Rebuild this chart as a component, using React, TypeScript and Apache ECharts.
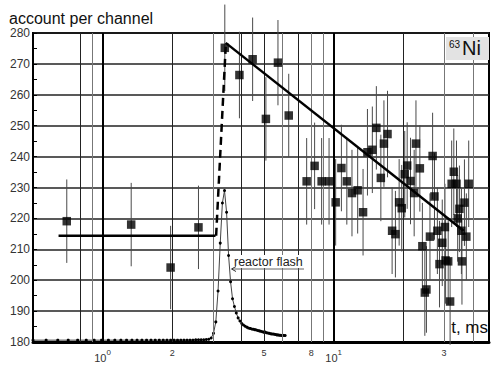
import React, { useEffect, useRef } from "react";
import * as echarts from "echarts";

// measured points (t in ms, counts per channel, error)
const pointT = [0.70, 1.33, 1.97, 2.60, 3.38, 3.91, 4.46, 5.09, 5.74, 6.39, 7.64, 8.27, 8.87, 9.55, 10.2, 10.8, 11.4, 12.0, 12.7, 13.4, 14.0, 14.7, 15.3, 16.0, 16.5, 17.1, 17.9, 18.5, 19.2, 19.7, 20.3, 20.8, 21.5, 22.3, 22.7, 23.6, 24.2, 24.8, 25.2, 26.1, 26.8, 27.3, 28.1, 28.7, 29.5, 30.3, 30.5, 31.3, 31.9, 32.4, 33.1, 34.0, 34.4, 35.0, 35.7, 35.9, 36.8, 37.5, 38.4];
const pointV = [219.1, 218.0, 204.1, 217.1, 275.2, 266.4, 271.5, 252.2, 270.4, 253.3, 232.0, 237.0, 232.0, 232.0, 225.2, 236.3, 232.0, 228.2, 229.1, 222.0, 241.4, 242.2, 249.3, 233.1, 244.2, 247.3, 216.0, 214.9, 225.2, 223.3, 234.3, 237.1, 232.1, 228.2, 244.2, 236.2, 211.0, 196.0, 197.0, 214.1, 240.2, 227.1, 216.0, 205.2, 212.1, 217.2, 206.4, 206.1, 193.1, 231.2, 235.1, 231.2, 220.0, 223.1, 216.0, 206.1, 225.1, 214.1, 231.2];
const pointErr = [13.5, 13.5, 13.5, 13.5, 14, 14, 13.5, 13.5, 13.8, 13.5, 14, 14, 14, 14, 14, 14, 14, 14, 14, 14, 14, 14, 13.5, 14, 14, 14, 14, 14, 14, 14, 14, 14, 14, 14, 14, 14, 14, 14, 14, 14, 14, 14, 14, 14, 14, 14, 14, 14, 14, 14, 14, 14, 14, 14, 14, 14, 14, 14, 14];

// reactor flash curve
const flashT = [0.50, 0.57, 0.64, 0.71, 0.78, 0.85, 0.92, 0.99, 1.06, 1.13, 1.20, 1.27, 1.34, 1.41, 1.48, 1.55, 1.62, 1.69, 1.76, 1.83, 1.90, 1.97, 2.04, 2.11, 2.18, 2.25, 2.32, 2.39, 2.46, 2.53, 2.60, 2.67, 2.74, 2.81, 2.88, 2.95, 3.02, 3.09, 3.16, 3.23, 3.30, 3.37, 3.44, 3.51, 3.58, 3.65, 3.72, 3.79, 3.86, 3.93, 4.00, 4.07, 4.14, 4.21, 4.28, 4.35, 4.42, 4.49, 4.56, 4.63, 4.70, 4.77, 4.84, 4.91, 4.98, 5.05, 5.12, 5.19, 5.26, 5.33, 5.40, 5.47, 5.54, 5.61, 5.68, 5.75, 5.82, 5.89, 5.96, 6.03, 6.10, 6.17];
const flashV = [180.6, 180.6, 180.6, 180.6, 180.6, 180.6, 180.6, 180.6, 180.6, 180.6, 180.6, 180.6, 180.6, 180.6, 180.6, 180.6, 180.6, 180.6, 180.6, 180.6, 180.6, 180.6, 180.6, 180.6, 180.6, 180.6, 180.6, 180.6, 180.6, 180.7, 180.7, 180.7, 180.7, 180.8, 180.9, 181.3, 182.8, 186.5, 196.5, 212.0, 225.0, 229.0, 222.0, 208.0, 199.5, 194.0, 191.5, 189.4, 187.8, 186.8, 186.0, 185.5, 185.1, 184.8, 184.5, 184.4, 184.2, 184.1, 184.0, 183.9, 183.7, 183.6, 183.5, 183.3, 183.2, 183.2, 183.0, 182.9, 182.8, 182.7, 182.6, 182.6, 182.5, 182.4, 182.3, 182.3, 182.2, 182.2, 182.1, 182.2, 182.1, 182.1];

// fitted lines
const plateauT = [0.645, 3.08];
const plateauV = [214.4, 214.4];
const riseT = [3.10, 3.41];
const riseV = [214.4, 275.5];
const decayT = [3.41, 36.5];
const decayV = [276.8, 216.0];

// axes
const yMin = 180;
const yMax = 280;
const yStep = 10;
const xMin = 0.5;
const xMax = 47;
const xLabelValues = [1, 2, 5, 8, 10, 30];
const xGridValues = [0.8, 0.9, 1, 2, 3, 4, 5, 6, 7, 8, 9, 10, 20, 30, 40];

const FONT = "'Liberation Sans', Arial, sans-serif";

function gridStyle(v: number) {
  if (v === 1 || v === 10) return { color: "#000", width: 2, type: "solid" };
  if (v === 2 || v === 4 || v === 5 || v === 7 || v === 20 || v === 0.8)
    return { color: "#222", width: 1, type: "solid" };
  return { color: "#777", width: 1, type: "solid" };
}

function xLabel(v: number) {
  const e = Math.round(Math.log10(v));
  if (Math.abs(v - Math.pow(10, e)) < 1e-6) return "{b|10}{s|" + e + "}";
  const lead = Math.round(v / Math.pow(10, Math.floor(Math.log10(v))));
  return "{d|" + lead + "}";
}

export default function App() {
  const ref = useRef<HTMLDivElement>(null);
  useEffect(() => {
    if (!ref.current) return;
    const chart = echarts.init(ref.current, null, { renderer: "svg" });
    const errData = pointT.map((t, i) => [t, pointV[i] - pointErr[i], pointV[i] + pointErr[i]]);
    const option: any = {
      animation: false,
      backgroundColor: "#fff",
      textStyle: { fontFamily: FONT },
      title: {
        text: "account per channel",
        left: 9,
        top: 10,
        padding: 0,
        textStyle: { fontSize: 16, fontWeight: "normal", color: "#111", fontFamily: FONT, lineHeight: 16 },
      },
      grid: {
        left: 33,
        top: 33,
        width: 456,
        height: 309,
        show: true,
        borderColor: "#000",
        borderWidth: 2,
        backgroundColor: "transparent",
      },
      xAxis: {
        type: "log",
        logBase: 10,
        min: xMin,
        max: xMax,
        axisLine: { show: true, lineStyle: { color: "#000", width: 3 } },
        axisTick: { show: false },
        splitLine: { show: false },
        axisLabel: {
          customValues: xLabelValues,
          margin: 6,
          color: "#333",
          formatter: (v: number) => xLabel(v),
          rich: {
            b: { fontSize: 11, color: "#333", fontFamily: FONT, verticalAlign: "bottom", lineHeight: 15 },
            s: { fontSize: 8, color: "#333", fontFamily: FONT, verticalAlign: "top", lineHeight: 15 },
            d: { fontSize: 9, color: "#333", fontFamily: FONT, lineHeight: 10 },
          },
        },
      },
      yAxis: {
        type: "value",
        min: yMin,
        max: yMax,
        interval: yStep,
        axisLine: { show: true, lineStyle: { color: "#000", width: 2 } },
        axisTick: { show: true, inside: true, length: 4, lineStyle: { color: "#000" } },
        minorTick: { show: true, splitNumber: 2, length: 4, lineStyle: { color: "#000" } },
        splitLine: { show: true, lineStyle: { color: "#222", width: 1.5 } },
        axisLabel: { fontSize: 12, color: "#333", margin: 3, fontFamily: FONT, lineHeight: 10 },
      },
      series: [
        {
          type: "line",
          name: "grid",
          data: [],
          silent: true,
          markLine: {
            silent: true,
            symbol: "none",
            label: { show: false },
            data: xGridValues.map((v) => ({ xAxis: v, lineStyle: gridStyle(v) })),
          },
        },
        {
          type: "custom",
          name: "errors",
          clip: false,
          z: 3,
          data: errData,
          encode: { x: 0, y: [1, 2] },
          renderItem: (params: any, api: any) => {
            const t = api.value(0);
            const p1 = api.coord([t, api.value(1)]);
            const p2 = api.coord([t, api.value(2)]);
            return {
              type: "line",
              shape: { x1: p1[0], y1: p1[1], x2: p2[0], y2: p2[1] },
              style: { stroke: "#4a4a4a", lineWidth: 1 },
            };
          },
        },
        {
          type: "line",
          name: "flash",
          z: 4,
          data: flashT.map((t, i) => [t, flashV[i]]),
          symbol: "circle",
          symbolSize: 3,
          showSymbol: true,
          itemStyle: { color: "#000" },
          lineStyle: { color: "#444", width: 1 },
        },
        {
          type: "line",
          name: "plateau",
          z: 5,
          data: plateauT.map((t, i) => [t, plateauV[i]]),
          showSymbol: false,
          lineStyle: { color: "#000", width: 2.5 },
        },
        {
          type: "line",
          name: "rise",
          z: 5,
          data: riseT.map((t, i) => [t, riseV[i]]),
          showSymbol: false,
          lineStyle: { color: "#000", width: 2.5, type: [8, 5] },
        },
        {
          type: "line",
          name: "decay",
          z: 5,
          data: decayT.map((t, i) => [t, decayV[i]]),
          showSymbol: false,
          lineStyle: { color: "#000", width: 2.5 },
        },
        {
          type: "scatter",
          name: "points",
          z: 6,
          data: pointT.map((t, i) => [t, pointV[i]]),
          symbol: "rect",
          symbolSize: 8.5,
          itemStyle: { color: "#000" },
        },
      ],
      graphic: [
        { type: "rect", shape: { x: 446, y: 37, width: 43, height: 23 }, style: { fill: "#e3e3e3" }, z: 10 },
        { type: "text", x: 449, y: 39, style: { text: "63", fontSize: 10, fill: "#111", fontFamily: FONT }, z: 11 },
        { type: "text", x: 462, y: 38, style: { text: "Ni", fontSize: 20, fill: "#111", fontFamily: FONT }, z: 11 },
        {
          type: "text",
          x: 488,
          y: 319,
          style: { text: "t, ms", fontSize: 17, fill: "#111", fontFamily: FONT, align: "right" },
          z: 11,
        },
        {
          type: "text",
          x: 234,
          y: 255,
          style: { text: "reactor flash", fontSize: 12.5, fill: "#222", fontFamily: FONT, backgroundColor: "#fff" },
          z: 11,
        },
        { type: "line", shape: { x1: 232, y1: 269, x2: 304, y2: 269 }, style: { stroke: "#666", lineWidth: 1 }, z: 11 },
        { type: "polyline", shape: { points: [[236, 266.5], [231.5, 269], [236, 271.5]] }, style: { stroke: "#333", lineWidth: 1, fill: null }, z: 11 },
      ],
    };
    chart.setOption(option);
    return () => chart.dispose();
  }, []);
  return <div ref={ref} style={{ position: "fixed", left: 0, top: 0, width: 496, height: 365 }} />;
}
